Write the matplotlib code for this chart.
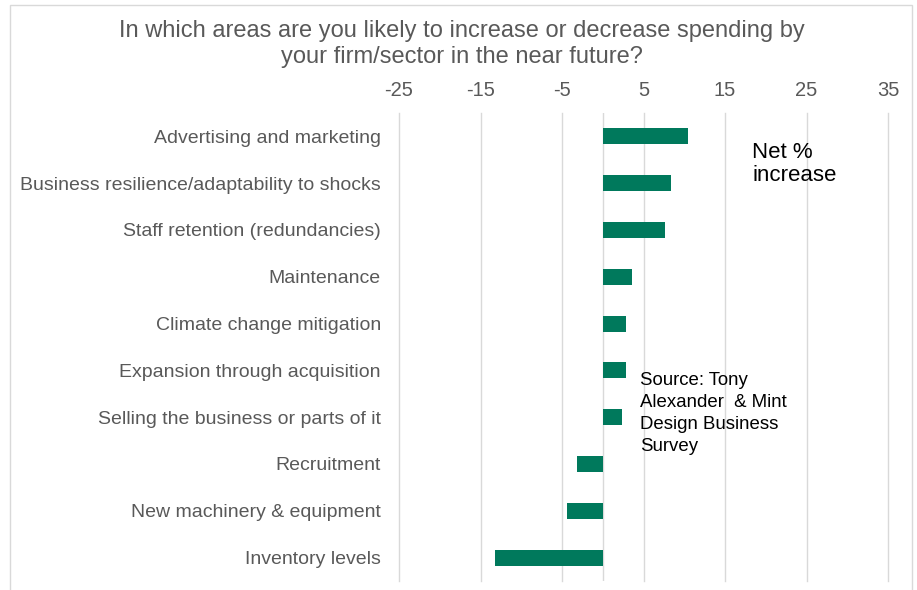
import matplotlib
matplotlib.use('Agg')
import matplotlib.pyplot as plt
from matplotlib.patches import Rectangle

categories = ['Advertising and marketing',
              'Business resilience/adaptability to shocks',
              'Staff retention (redundancies)',
              'Maintenance',
              'Climate change mitigation',
              'Expansion through acquisition',
              'Selling the business or parts of it',
              'Recruitment',
              'New machinery & equipment',
              'Inventory levels']
net_increase = [10.4, 8.4, 7.6, 3.6, 2.8, 2.8, 2.4, -3.2, -4.4, -13.2]
x_ticks = [-25, -15, -5, 5, 15, 25, 35]

plt.rcParams['font.family'] = ['Liberation Sans', 'DejaVu Sans']
grey = '#595959'

fig = plt.figure(figsize=(9.17, 5.9), dpi=100)
ax = fig.add_axes([399 / 917, 1 - 581 / 590, (888 - 399) / 917, (581 - 113) / 590])

# outer chart frame
fig.patches.append(Rectangle((10 / 917, -0.01), 902 / 917, 1 - 5 / 590 + 0.01,
                             transform=fig.transFigure, fill=False,
                             edgecolor='#D9D9D9', linewidth=1))

ypos = list(range(len(categories)))
ax.barh(ypos, net_increase, height=0.34, color='#00795C', zorder=3)
ax.set_ylim(len(categories) - 0.5, -0.5)
ax.set_xlim(-25, 35)

ax.set_xticks(x_ticks)
ax.set_xticklabels([str(t) for t in x_ticks])
ax.xaxis.tick_top()
ax.tick_params(axis='x', length=0, pad=9, labelsize=14.5, labelcolor=grey)
ax.set_yticks(ypos)
ax.set_yticklabels(categories)
ax.tick_params(axis='y', length=0, pad=13, labelsize=14, labelcolor=grey)

for t in x_ticks:
    ax.axvline(t, color='#D9D9D9', linewidth=1, zorder=0, clip_on=False)
ax.axvline(0, color='#D9D9D9', linewidth=1, zorder=1)
for s in ax.spines.values():
    s.set_visible(False)

fig.text(462 / 917, 1 - 44 / 590,
         'In which areas are you likely to increase or decrease spending by\nyour firm/sector in the near future?',
         ha='center', va='center', fontsize=17, color=grey, linespacing=1.28)

fig.text(752 / 917, 1 - 142 / 590, 'Net %\nincrease', ha='left', va='top',
         fontsize=16, color='black', linespacing=1.15)
fig.text(640 / 917, 1 - 372 / 590, 'Source: Tony\nAlexander  & Mint\nDesign Business\nSurvey',
         ha='left', va='top', fontsize=13.4, color='black', linespacing=1.38)

fig.savefig('out.png', dpi=100)
